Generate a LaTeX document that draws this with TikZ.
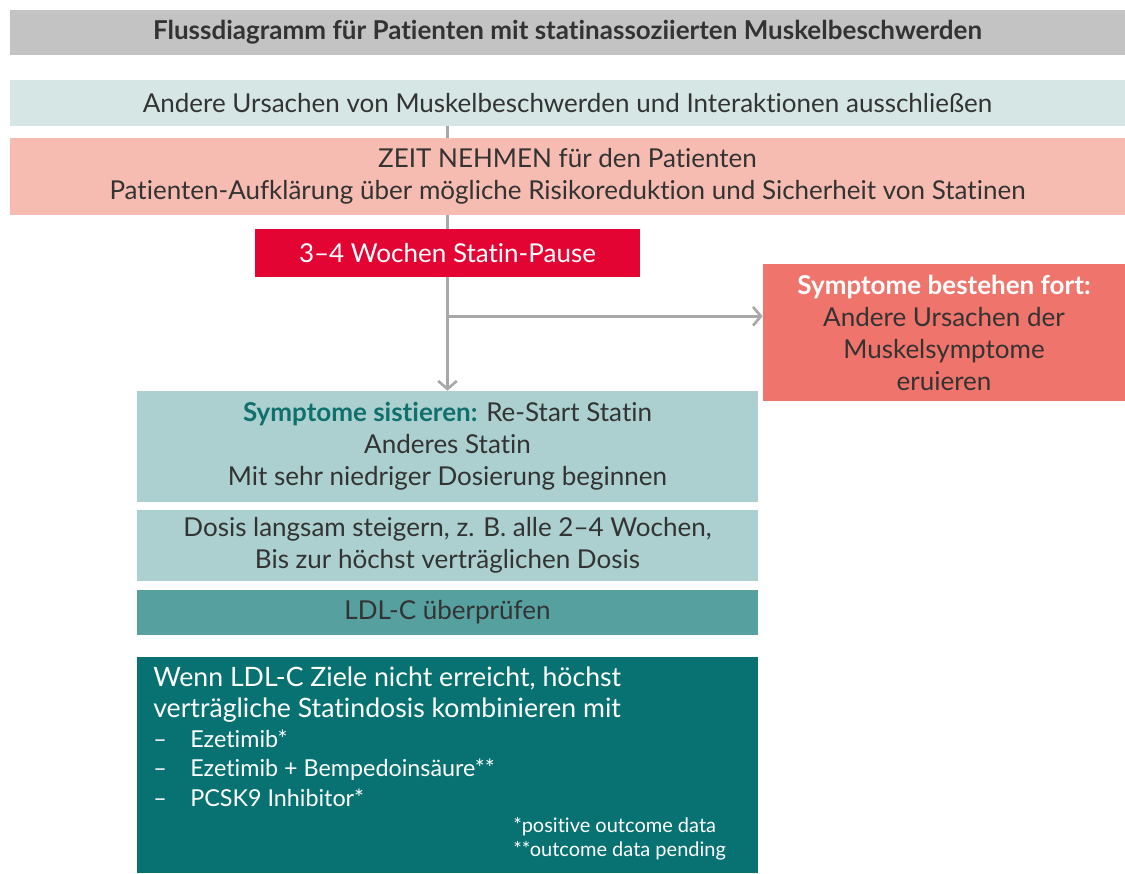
\documentclass[tikz,border=0pt]{standalone}
\usepackage{fontspec}
\setmainfont{Lato}[Ligatures=NoCommon]
\usetikzlibrary{arrows.meta}

\definecolor{titelgrau}{HTML}{C3C3C3}
\definecolor{hellblau}{HTML}{D5E6E5}
\definecolor{lachs}{HTML}{F6BCB1}
\definecolor{signalrot}{HTML}{E30434}
\definecolor{korall}{HTML}{EF746B}
\definecolor{mint}{HTML}{ABD0CF}
\definecolor{petrol}{HTML}{56A09F}
\definecolor{dunkelpetrol}{HTML}{087272}
\definecolor{tealtext}{HTML}{10706E}
\definecolor{textdunkel}{HTML}{333333}
\definecolor{liniengrau}{HTML}{A8A8A8}

\begin{document}
\begin{tikzpicture}[x=0.75pt, y=-0.75pt,
    >={Straight Barb[length=6pt, width=14pt, line width=2pt]},
    box/.style={inner sep=0pt, align=center, text=textdunkel,
        font=\fontsize{19.5}{24}\selectfont},
    linie/.style={draw=liniengrau, line width=2.2pt}]

        \useasboundingbox (0,0) rectangle (1125,874);

        % Titel
        \node[box, fill=titelgrau, minimum width=836.25pt, minimum height=33.75pt,
            font=\fontsize{19.5}{24}\selectfont\bfseries] (titel) at (567.5, 32.5)
            {Flussdiagramm für Patienten mit statinassoziierten Muskelbeschwerden};

        % Andere Ursachen
        \node[box, fill=hellblau, minimum width=836.25pt, minimum height=34.5pt] (ursachen) at (567.5, 103)
            {Andere Ursachen von Muskelbeschwerden und Interaktionen ausschließen};

        % Zeit nehmen
        \node[box, fill=lachs, minimum width=836.25pt, minimum height=57.75pt] (zeit) at (567.5, 176.5)
            {ZEIT NEHMEN für den Patienten\\
             Patienten-Aufklärung über mögliche Risikoreduktion und Sicherheit von Statinen};

        % Statin-Pause
        \node[box, fill=signalrot, text=white, minimum width=288.75pt, minimum height=36pt] (pause) at (447.5, 253)
            {3–4 Wochen Statin-Pause};

        % Symptome bestehen fort
        \node[box, fill=korall, minimum width=271.5pt, minimum height=102.75pt] (fort) at (944, 332.5)
            {\textcolor{white}{\bfseries Symptome bestehen fort:}\\
             Andere Ursachen der\\
             Muskelsymptome\\
             eruieren};

        % Symptome sistieren
        \node[box, fill=mint, minimum width=465.75pt, minimum height=83.25pt] (sistieren) at (447.5, 446.5)
            {\textcolor{tealtext}{\bfseries Symptome sistieren:} Re-Start Statin\\
             Anderes Statin\\
             Mit sehr niedriger Dosierung beginnen};

        % Dosis steigern
        \node[box, fill=mint, minimum width=465.75pt, minimum height=53.25pt] (dosis) at (447.5, 545.5)
            {Dosis langsam steigern, z. B. alle 2–4 Wochen,\\
             Bis zur höchst verträglichen Dosis};

        % LDL-C pruefen
        \node[box, fill=petrol, minimum width=465.75pt, minimum height=33.75pt] (ldl) at (447.5, 612.5)
            {LDL-C überprüfen};

        % Kombination
        \node[box, fill=dunkelpetrol, minimum width=465.75pt, minimum height=162pt] (ziele) at (447.5, 765) {};
        \node[anchor=north west, inner sep=0pt, align=left, text=white,
            font=\fontsize{20}{23.25}\selectfont] (zieltext) at (153, 667)
            {Wenn LDL-C Ziele nicht erreicht, höchst\\
             verträgliche Statindosis kombinieren mit\\[-1pt]
             {\fontsize{17.5}{21.75}\selectfont\makebox[27.75pt][l]{–}Ezetimib*}\\[-1.2pt]
             {\fontsize{17.5}{21.75}\selectfont\makebox[27.75pt][l]{–}Ezetimib + Bempedoinsäure**}\\[-1pt]
             {\fontsize{17.5}{21.75}\selectfont\makebox[27.75pt][l]{–}PCSK9 Inhibitor*}};
        \node[anchor=north west, inner sep=0pt, align=left, text=white,
            font=\fontsize{15}{18}\selectfont] (fussnote) at (513, 817)
            {*positive outcome data\\
             **outcome data pending};

        % Verbindungen
        \draw[linie] (ursachen.south -| pause) -- (zeit.north -| pause);
        \draw[linie] (zeit.south -| pause) -- (pause.north);
        \draw[linie, ->] (pause.south) -- (sistieren.north);
        \coordinate (abzweig) at ([yshift=-29.25pt]pause.south);
        \draw[linie, ->] (abzweig) -- (abzweig -| fort.west);

\end{tikzpicture}
\end{document}
